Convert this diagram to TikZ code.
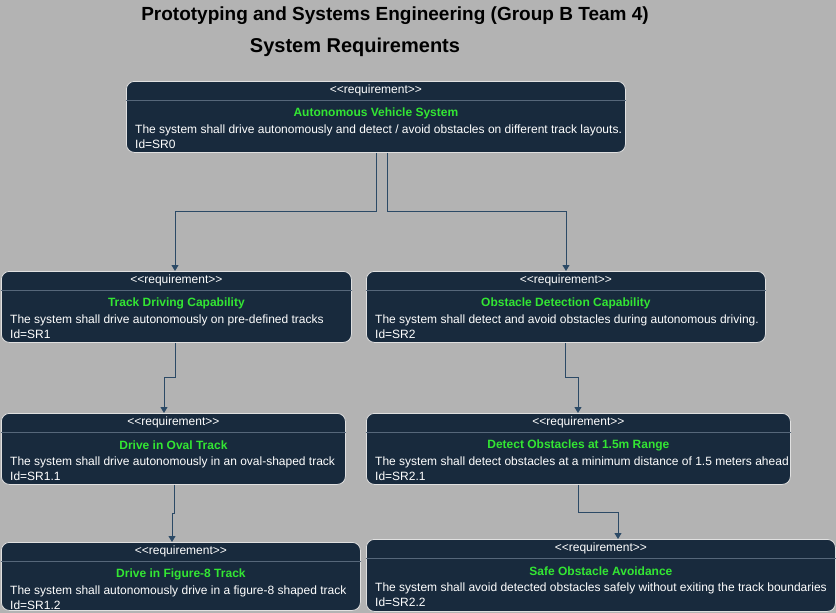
\documentclass[tikz,border=0pt]{standalone}
\usepackage{fontspec}
\setmainfont{Liberation Sans}
\usetikzlibrary{arrows.meta}
\definecolor{bgc}{HTML}{B3B3B3}
\definecolor{boxc}{HTML}{182A3D}
\definecolor{sepc}{HTML}{56677A}
\definecolor{ttlc}{HTML}{33E633}
\definecolor{connc}{HTML}{2C4A66}
\tikzset{
  reqbox/.style={draw=white!88!black, line width=0.8pt, fill=boxc, rounded corners=8pt, inner sep=0pt},
  sepline/.style={draw=sepc, line width=0.8pt},
  hdrtxt/.style={text=white, font=\fontsize{12}{14}\selectfont, inner sep=0pt},
  ttltxt/.style={text=ttlc, font=\bfseries\fontsize{12}{14}\selectfont, inner sep=0pt},
  bodytxt/.style={text=white, font=\fontsize{12}{14}\selectfont, inner sep=0pt, anchor=west, text height=8.8pt, text depth=2.6pt},
  maintitle/.style={text=black, font=\bfseries\fontsize{19}{22}\selectfont, inner sep=0pt},
  conn/.style={draw=connc, line width=1pt, -{Triangle[width=7pt,length=6pt]}}
}
\newcommand{\reqbox}[8]{%
  \node[reqbox, minimum width=#4pt, minimum height=#5pt, anchor=north west] (#1) at (#2,#3) {};
  \draw[sepline] ([yshift=-19.5pt]#1.north west) -- ([yshift=-19.5pt]#1.north east);
  \node[hdrtxt] (#1-h) at ([yshift=-9.5pt]#1.north) {{<}{<}requirement{>}{>}};
  \node[ttltxt] (#1-t) at ([yshift=-32pt]#1.north) {#6};
  \node[bodytxt] (#1-b) at ([xshift=9pt,yshift=-49pt]#1.north west) {#7};
  \node[bodytxt] (#1-i) at ([xshift=9pt,yshift=-64.5pt]#1.north west) {#8};
}
\begin{document}
\begin{tikzpicture}[x=1pt,y=-1pt]
\fill[bgc] (0,0) rectangle (836,613);
\useasboundingbox (0,0) rectangle (836,613);
\node[maintitle] (t1) at (395,16) {Prototyping and Systems Engineering (Group B Team 4)};
\node[maintitle, font=\bfseries\fontsize{20}{23}\selectfont] (t2) at (355,47) {System Requirements};
\reqbox{sr0}{126}{81}{499}{71}{Autonomous Vehicle System}{The system shall drive autonomously and detect / avoid obstacles on different track layouts.}{Id=SR0}
\reqbox{sr1}{1}{271}{350}{71}{Track Driving Capability}{The system shall drive autonomously on pre-defined tracks}{Id=SR1}
\reqbox{sr2}{366}{271}{399}{71}{Obstacle Detection Capability}{The system shall detect and avoid obstacles during autonomous driving.}{Id=SR2}
\reqbox{sr11}{1}{413}{344}{71}{Drive in Oval Track}{The system shall drive autonomously in an oval-shaped track}{Id=SR1.1}
\reqbox{sr21}{366}{413}{424}{71}{Detect Obstacles at 1.5m Range}{The system shall detect obstacles at a minimum distance of 1.5 meters ahead}{Id=SR2.1}
\reqbox{sr12}{1}{542}{359}{68}{Drive in Figure-8 Track}{The system shall autonomously drive in a figure-8 shaped track}{Id=SR1.2}
\reqbox{sr22}{366}{539}{469}{72}{Safe Obstacle Avoidance}{The system shall avoid detected obstacles safely without exiting the track boundaries}{Id=SR2.2}
\draw[conn] ([xshift=250pt]sr0.south west) -- ++(0,59) -| ([xshift=174pt]sr1.north west);
\draw[conn] ([xshift=261pt]sr0.south west) -- ++(0,59) -| ([xshift=200pt]sr2.north west);
\draw[conn] ([xshift=174pt]sr1.south west) -- ++(0,35) -| ([xshift=163pt]sr11.north west);
\draw[conn] ([xshift=199pt]sr2.south west) -- ++(0,35) -| ([xshift=212pt]sr21.north west);
\draw[conn] ([xshift=173pt]sr11.south west) -- ++(0,29) -| ([xshift=171pt]sr12.north west);
\draw[conn] ([xshift=212pt]sr21.south west) -- ++(0,28) -| ([xshift=252pt]sr22.north west);
\end{tikzpicture}
\end{document}
